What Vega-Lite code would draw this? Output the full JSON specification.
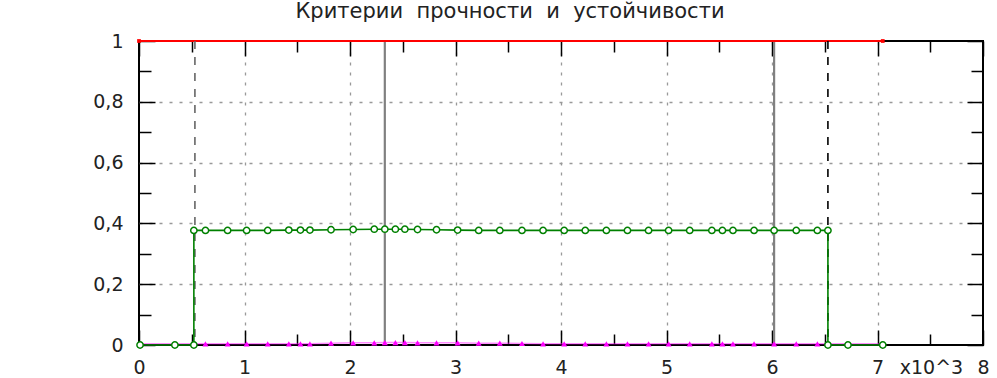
{
 "$schema": "https://vega.github.io/schema/vega-lite/v6.json",
 "width": 844, "height": 304,
 "autosize": "none",
 "padding": {"left": 139, "top": 41, "right": 14, "bottom": 33},
 "background": "white",
 "config": {
  "view": {"stroke": "black", "strokeWidth": 2},
  "font": "DejaVu Sans",
  "axis": {"domain": false, "labelFont": "DejaVu Sans", "labelFontSize": 19, "labelColor": "#222", "titleFont": "DejaVu Sans", "titleFontSize": 19, "titleFontWeight": "normal", "titleColor": "#222", "tickColor": "#000", "tickWidth": 1.5, "gridColor": "#999", "gridWidth": 1.3, "labelOverlap": false, "labelFlush": false, "labelBound": false}
 },
 "title": {"text": "Критерии\u00a0 прочности\u00a0 и\u00a0 устойчивости", "fontSize": 21, "fontWeight": "normal", "color": "#222", "font": "DejaVu Sans", "anchor": "middle", "dx": -51, "offset": 10},
 "datasets": {
  "red": [{"x": 0, "y": 1}, {"x": 7.05, "y": 1}],
  "vdash": [{"x": 0.53, "c": "#666"}, {"x": 6.53, "c": "#000"}],
  "vsolid": [{"x": 2.33}, {"x": 6.02}],
  "magenta": [
   {"x": 0.01, "y": 0.004}, {"x": 0.34, "y": 0.004}, {"x": 0.52, "y": 0.004}, {"x": 0.63, "y": 0.004}, {"x": 0.84, "y": 0.004}, {"x": 1.02, "y": 0.004}, {"x": 1.22, "y": 0.004}, {"x": 1.42, "y": 0.004}, {"x": 1.53, "y": 0.004}, {"x": 1.62, "y": 0.004}, {"x": 1.82, "y": 0.006}, {"x": 2.03, "y": 0.007}, {"x": 2.23, "y": 0.007}, {"x": 2.33, "y": 0.008}, {"x": 2.43, "y": 0.008}, {"x": 2.52, "y": 0.008}, {"x": 2.64, "y": 0.007}, {"x": 2.82, "y": 0.007}, {"x": 3.02, "y": 0.007}, {"x": 3.22, "y": 0.006}, {"x": 3.42, "y": 0.006}, {"x": 3.63, "y": 0.005}, {"x": 3.83, "y": 0.004}, {"x": 4.03, "y": 0.004}, {"x": 4.23, "y": 0.004}, {"x": 4.43, "y": 0.004}, {"x": 4.63, "y": 0.004}, {"x": 4.83, "y": 0.004}, {"x": 5.02, "y": 0.004}, {"x": 5.22, "y": 0.004}, {"x": 5.43, "y": 0.004}, {"x": 5.53, "y": 0.004}, {"x": 5.63, "y": 0.004}, {"x": 5.83, "y": 0.004}, {"x": 6.02, "y": 0.004}, {"x": 6.23, "y": 0.004}, {"x": 6.43, "y": 0.004}, {"x": 6.53, "y": 0.004}, {"x": 6.72, "y": 0.004}, {"x": 7.05, "y": 0.004}
  ],
  "green": [
   {"i": 0, "x": 0.01, "y": 0}, {"i": 1, "x": 0.34, "y": 0}, {"i": 2, "x": 0.52, "y": 0}, {"i": 3, "x": 0.52, "y": 0.377}, {"i": 4, "x": 0.63, "y": 0.377}, {"i": 5, "x": 0.84, "y": 0.377}, {"i": 6, "x": 1.02, "y": 0.377}, {"i": 7, "x": 1.22, "y": 0.377}, {"i": 8, "x": 1.42, "y": 0.378}, {"i": 9, "x": 1.53, "y": 0.378}, {"i": 10, "x": 1.62, "y": 0.378}, {"i": 11, "x": 1.82, "y": 0.379}, {"i": 12, "x": 2.03, "y": 0.38}, {"i": 13, "x": 2.23, "y": 0.381}, {"i": 14, "x": 2.33, "y": 0.381}, {"i": 15, "x": 2.43, "y": 0.381}, {"i": 16, "x": 2.52, "y": 0.381}, {"i": 17, "x": 2.64, "y": 0.38}, {"i": 18, "x": 2.82, "y": 0.379}, {"i": 19, "x": 3.02, "y": 0.378}, {"i": 20, "x": 3.22, "y": 0.377}, {"i": 21, "x": 3.42, "y": 0.377}, {"i": 22, "x": 3.63, "y": 0.377}, {"i": 23, "x": 3.83, "y": 0.377}, {"i": 24, "x": 4.03, "y": 0.377}, {"i": 25, "x": 4.23, "y": 0.377}, {"i": 26, "x": 4.43, "y": 0.377}, {"i": 27, "x": 4.63, "y": 0.377}, {"i": 28, "x": 4.83, "y": 0.377}, {"i": 29, "x": 5.02, "y": 0.377}, {"i": 30, "x": 5.22, "y": 0.377}, {"i": 31, "x": 5.43, "y": 0.377}, {"i": 32, "x": 5.53, "y": 0.377}, {"i": 33, "x": 5.63, "y": 0.377}, {"i": 34, "x": 5.83, "y": 0.377}, {"i": 35, "x": 6.02, "y": 0.377}, {"i": 36, "x": 6.23, "y": 0.377}, {"i": 37, "x": 6.43, "y": 0.377}, {"i": 38, "x": 6.53, "y": 0.377}, {"i": 39, "x": 6.53, "y": 0}, {"i": 40, "x": 6.72, "y": 0}, {"i": 41, "x": 7.05, "y": 0}
  ]
 },
 "layer": [
  {
   "data": {"name": "vsolid"},
   "mark": {"type": "rule", "color": "#808080", "strokeWidth": 2.2},
   "encoding": {
    "x": {"field": "x", "type": "quantitative", "scale": {"domain": [0, 8], "nice": false},
     "axis": {"orient": "bottom", "values": [0, 0.5, 1, 1.5, 2, 2.5, 3, 3.5, 4, 4.5, 5, 5.5, 6, 6.5, 7, 7.5, 8],
      "labelExpr": "datum.value % 1 == 0 ? format(datum.value, 'd') : ''",
      "tickSize": {"condition": {"test": "datum.value % 1 == 0", "value": -15}, "value": -11},
      "labelPadding": 28,
      "grid": true, "gridDash": [3, 7],
      "gridOpacity": {"condition": {"test": "datum.value % 1 == 0 && datum.value > 0 && datum.value < 8", "value": 1}, "value": 0},
      "title": "x10^3", "titleX": 792, "titleY": 22, "titleAlign": "center", "titleBaseline": "middle", "titleAnchor": null}
    }
   }
  },
  {
   "data": {"name": "red"},
   "mark": {"type": "line", "color": "#ff0000", "strokeWidth": 2, "clip": false},
   "encoding": {
    "x": {"field": "x", "type": "quantitative", "scale": {"domain": [0, 8], "nice": false}, "axis": null},
    "y": {"field": "y", "type": "quantitative", "scale": {"domain": [0, 1], "nice": false},
     "axis": {"orient": "left", "values": [0, 0.1, 0.2, 0.3, 0.4, 0.5, 0.6, 0.7, 0.8, 0.9, 1],
      "labelExpr": "round(datum.value*10) % 2 == 0 ? replace(format(datum.value, '~g'), '.', ',') : ''",
      "tickSize": {"condition": {"test": "round(datum.value*10) % 2 == 0", "value": -16}, "value": -12},
      "labelPadding": 32,
      "grid": true, "gridDash": [3, 7],
      "gridOpacity": {"condition": {"test": "round(datum.value*10) % 2 == 0 && datum.value > 0 && datum.value < 1", "value": 1}, "value": 0},
      "title": null}
    }
   }
  },
  {
   "data": {"name": "vdash"},
   "mark": {"type": "rule", "strokeWidth": 1.6, "strokeDash": [8, 8]},
   "encoding": {
    "x": {"field": "x", "type": "quantitative", "axis": null},
    "color": {"field": "c", "type": "nominal", "scale": null}
   }
  },
  {
   "data": {"name": "magenta"},
   "mark": {"type": "line", "color": "#ff00ff", "strokeWidth": 1.5, "opacity": 0.45, "clip": false},
   "encoding": {
    "x": {"field": "x", "type": "quantitative",
     "axis": {"orient": "top", "values": [0, 0.5, 1, 1.5, 2, 2.5, 3, 3.5, 4, 4.5, 5, 5.5, 6, 6.5, 7, 7.5, 8], "labels": false, "grid": false, "title": null,
      "tickSize": {"condition": {"test": "datum.value % 1 == 0", "value": -15}, "value": -11}}},
    "y": {"field": "y", "type": "quantitative",
     "axis": {"orient": "right", "values": [0, 0.1, 0.2, 0.3, 0.4, 0.5, 0.6, 0.7, 0.8, 0.9, 1], "labels": false, "grid": false, "title": null,
      "tickSize": {"condition": {"test": "round(datum.value*10) % 2 == 0", "value": -16}, "value": -12}}}
   }
  },
  {
   "data": {"name": "magenta"},
   "mark": {"type": "point", "shape": "triangle-up", "filled": true, "color": "#ff00ff", "size": 36, "opacity": 1, "clip": false},
   "encoding": {
    "x": {"field": "x", "type": "quantitative", "axis": null},
    "y": {"field": "y", "type": "quantitative", "axis": null}
   }
  },
  {
   "data": {"name": "green"},
   "mark": {"type": "line", "color": "#008000", "strokeWidth": 1.6, "clip": false},
   "encoding": {
    "x": {"field": "x", "type": "quantitative", "axis": null},
    "y": {"field": "y", "type": "quantitative", "axis": null},
    "order": {"field": "i", "type": "quantitative"}
   }
  },
  {
   "data": {"name": "green"},
   "mark": {"type": "point", "shape": "circle", "filled": false, "fill": "white", "color": "#008000", "size": 40, "strokeWidth": 1.5, "opacity": 1, "clip": false},
   "encoding": {
    "x": {"field": "x", "type": "quantitative", "axis": null},
    "y": {"field": "y", "type": "quantitative", "axis": null}
   }
  },
  {
   "data": {"name": "red"},
   "mark": {"type": "point", "shape": "square", "filled": true, "color": "#ff0000", "size": 14, "opacity": 1, "clip": false},
   "encoding": {
    "x": {"field": "x", "type": "quantitative", "axis": null},
    "y": {"field": "y", "type": "quantitative", "axis": null}
   }
  }
 ],
 "resolve": {"axis": {"x": "independent", "y": "independent"}}
}
